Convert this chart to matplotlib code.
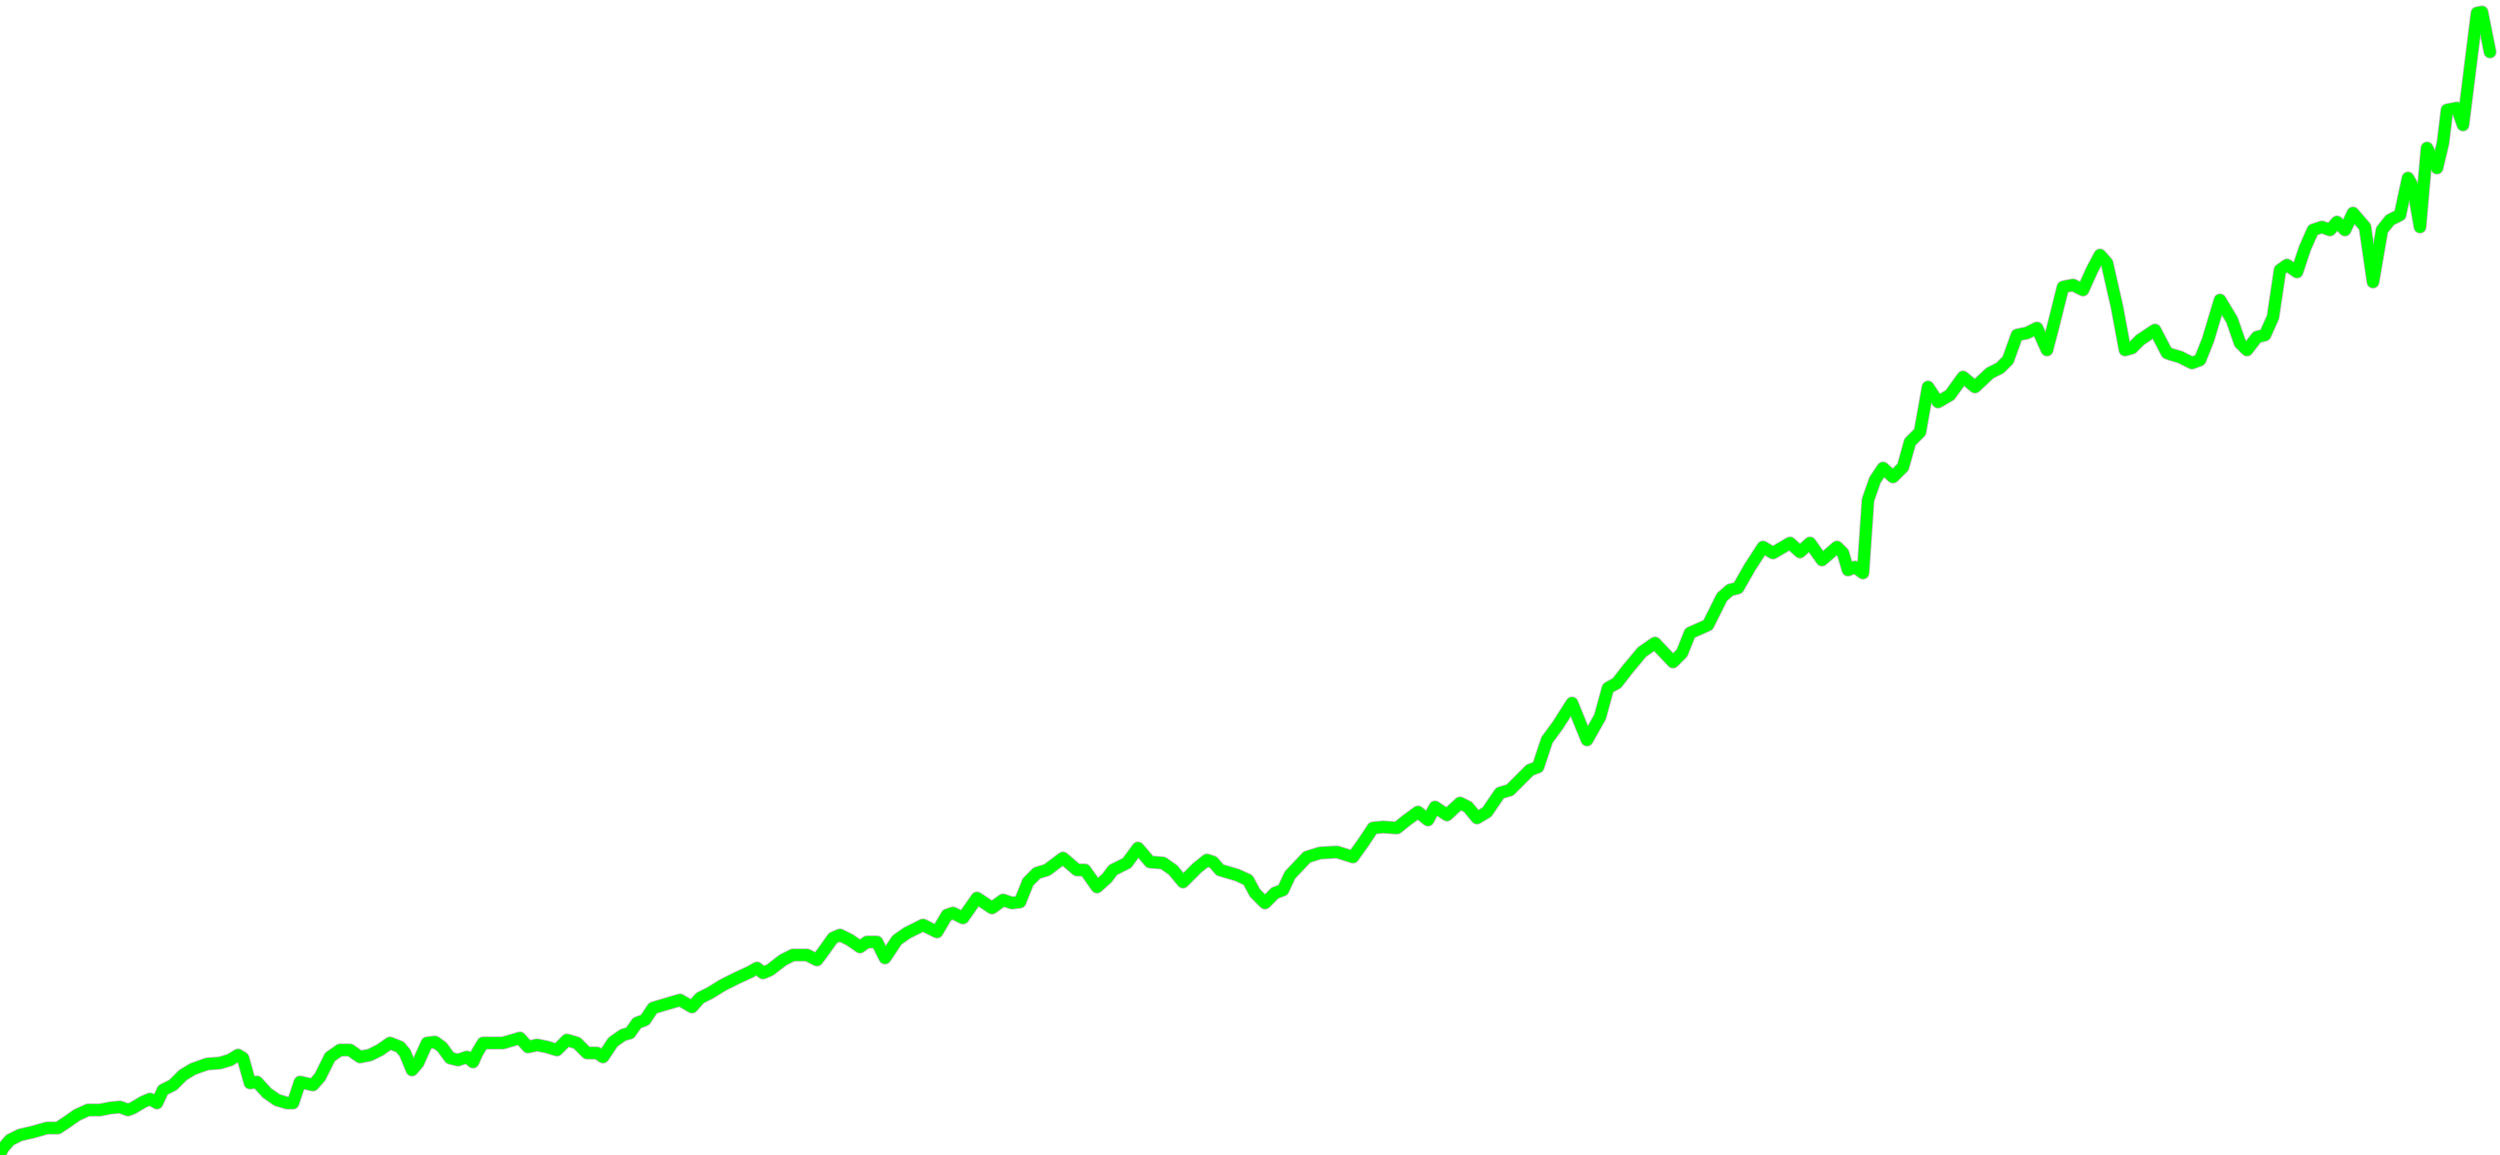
import matplotlib
matplotlib.use("Agg")
import matplotlib.pyplot as plt
import matplotlib.patheffects as pe
import numpy as np

# time position (arbitrary units) and series value
t = [1, 3, 10, 20, 33, 47, 58, 67, 77, 88, 100, 110, 120, 128, 133, 143, 150, 157, 163, 173,
     183, 193, 207, 220, 230, 238, 243, 250, 257, 267, 277, 287, 293, 300,
     313, 320, 330, 340, 350, 360, 370, 380, 390, 400, 405, 412, 418, 427, 435, 442, 450, 458,
     467, 473, 477, 483, 493, 503, 513, 520, 528, 537, 547, 557, 567, 577, 587, 597, 603, 613,
     623, 630,
     637, 645, 653, 663, 680, 692, 700, 710, 723, 737, 750, 757, 763, 770, 783, 793, 807, 817,
     823, 833, 840, 850, 860, 867, 877, 885, 897, 907, 923, 937, 947, 953, 963,
     977, 992, 1003, 1012, 1020, 1028, 1037, 1047, 1063, 1077, 1085, 1097, 1107, 1113, 1127,
     1138, 1150, 1163, 1173, 1183, 1197, 1207, 1213, 1220, 1237, 1248, 1255, 1265, 1275, 1283, 1290,
     1307, 1320, 1337, 1353, 1363, 1373, 1383, 1397, 1407, 1418, 1428, 1435, 1447, 1460, 1468,
     1477, 1487, 1500, 1510, 1530, 1538, 1547, 1558, 1572, 1587,
     1600, 1608, 1617, 1627, 1642, 1655, 1673, 1682, 1690, 1708, 1722, 1730, 1738, 1750, 1763,
     1773, 1790, 1800, 1810, 1822, 1837, 1843, 1848, 1855, 1863, 1868, 1875, 1883, 1893, 1903,
     1910, 1920,
     1928, 1938, 1950, 1963, 1975, 1990, 2000, 2008, 2017, 2027, 2037, 2047, 2053, 2063, 2073,
     2083, 2092, 2100, 2107, 2117, 2125, 2132, 2140, 2155, 2167, 2173, 2180, 2192,
     2200, 2208, 2220, 2232, 2240, 2247, 2257, 2265, 2273, 2280, 2287, 2297, 2305, 2313, 2322,
     2330, 2337, 2345, 2353, 2365, 2373, 2382, 2390, 2400, 2408, 2413, 2420, 2427, 2437, 2443,
     2447, 2457, 2463, 2477, 2482, 2490]

depth = [1152, 1148, 1140, 1135, 1132, 1128, 1128, 1122, 1115, 1110, 1110, 1108, 1107, 1110, 1108,
         1102, 1099, 1103, 1090, 1085, 1075, 1069, 1064, 1063, 1060, 1055, 1058, 1083, 1082, 1093,
         1100, 1103, 1103, 1082,
         1085, 1077, 1057, 1050, 1050, 1057, 1055, 1050, 1043, 1047, 1053, 1070, 1063, 1043, 1042,
         1047, 1058, 1060, 1057, 1062, 1053, 1043, 1043, 1043, 1040, 1038, 1047, 1045, 1047, 1050,
         1040, 1043, 1053, 1053, 1057, 1042, 1035, 1033,
         1023, 1020, 1008, 1005, 1000, 1007, 998, 993, 985, 978, 972, 968, 973, 970, 960, 955, 955,
         960, 952, 938, 935, 940, 947, 942, 942, 958, 940, 933, 925, 932, 915, 913, 918,
         898, 908, 900, 903, 902, 882, 873, 870, 858, 870, 870, 887, 878, 870, 863, 848, 862, 863,
         870, 882, 868, 860, 862, 870, 875, 880, 893, 903, 893, 890, 875,
         857, 853, 852, 857, 843, 828, 827, 828, 820, 812, 820, 807, 815, 803, 807, 818, 812, 793,
         790, 770, 767, 740, 725, 703, 740,
         717, 688, 683, 670, 652, 643, 662, 653, 633, 625, 597, 590, 588, 567, 547, 553, 543, 552,
         543, 560, 547, 553, 570, 567, 573, 500, 480, 468, 477, 467, 442, 432,
         387, 402, 395, 377, 387, 373, 368, 360, 335, 333, 328, 350, 327, 287, 285, 290, 270, 255,
         263, 307, 350, 348, 340, 330, 353, 355, 357, 363,
         360, 340, 300, 320, 343, 350, 337, 335, 317, 270, 265, 272, 248, 230, 227, 230, 222, 230,
         213, 227, 282, 230, 220, 215, 178, 187, 227, 148, 168, 143, 110, 108, 125, 13, 12, 52]

FIG_H = 1155
values = [FIG_H - d for d in depth]

fig = plt.figure(figsize=(25, 11.55), dpi=100)
ax = fig.add_axes([0, 0, 1, 1])
ax.plot(t, values, color="#00ff00", linewidth=8.4, solid_joinstyle="round",
        solid_capstyle="round",
        path_effects=[pe.Stroke(linewidth=9.6, foreground="#8a8a8a", alpha=0.55), pe.Normal()])
ax.set_xlim(0, 2500)
ax.set_ylim(0, FIG_H)
ax.axis("off")
fig.savefig("out.png", dpi=100, facecolor="white")
